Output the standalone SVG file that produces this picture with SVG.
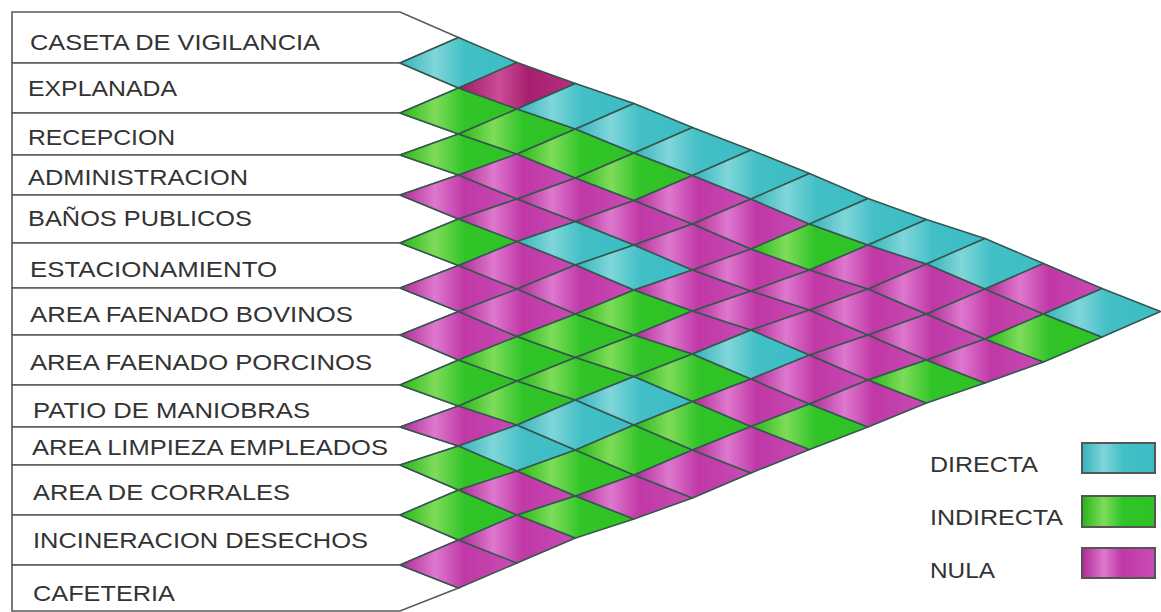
<svg xmlns="http://www.w3.org/2000/svg" width="1161" height="612" viewBox="0 0 1161 612">
<defs>
<linearGradient id="gc" x1="0" y1="0" x2="1" y2="0"><stop offset="0" stop-color="#34b2ba"/><stop offset="0.3" stop-color="#80d6da"/><stop offset="0.55" stop-color="#43c0c6"/><stop offset="1" stop-color="#3cbcc4"/></linearGradient>
<linearGradient id="gg" x1="0" y1="0" x2="1" y2="0"><stop offset="0" stop-color="#26b616"/><stop offset="0.3" stop-color="#7edc5a"/><stop offset="0.55" stop-color="#30c428"/><stop offset="1" stop-color="#2ec224"/></linearGradient>
<linearGradient id="gm" x1="0" y1="0" x2="1" y2="0"><stop offset="0" stop-color="#ae2a94"/><stop offset="0.3" stop-color="#de78ce"/><stop offset="0.55" stop-color="#c038a6"/><stop offset="1" stop-color="#c84cb4"/></linearGradient>
<linearGradient id="gd" x1="0" y1="0" x2="1" y2="0"><stop offset="0" stop-color="#9a1a68"/><stop offset="0.35" stop-color="#cc4c96"/><stop offset="0.6" stop-color="#a61e6e"/><stop offset="1" stop-color="#b8307e"/></linearGradient>
</defs>
<style>
.row{fill:#fff;stroke:#5a5a5a;stroke-width:1.6;stroke-linejoin:miter}
.lbl{font-family:"Liberation Sans",Arial,sans-serif;font-size:22px;fill:#333}
.cell polygon{stroke:#35574f;stroke-width:1.5;stroke-linejoin:round}
.c{fill:url(#gc)}.g{fill:url(#gg)}.m{fill:url(#gm)}.d{fill:url(#gd)}
.key{stroke:#555;stroke-width:2}
</style>
<rect width="1161" height="612" fill="#fff"/>
<g id="rows">
<g id="r0"><polygon class="row" points="12,12 400,12 458.5,37.5 400,63 12,63"/><text class="lbl" x="30" y="50" textLength="290" lengthAdjust="spacingAndGlyphs">CASETA DE VIGILANCIA</text></g>
<g id="r1"><polygon class="row" points="12,63 400,63 458.5,88 400,113 12,113"/><text class="lbl" x="28" y="96" textLength="149" lengthAdjust="spacingAndGlyphs">EXPLANADA</text></g>
<g id="r2"><polygon class="row" points="12,113 400,113 458.5,134 400,155 12,155"/><text class="lbl" x="28" y="145" textLength="147" lengthAdjust="spacingAndGlyphs">RECEPCION</text></g>
<g id="r3"><polygon class="row" points="12,155 400,155 458.5,175 400,195 12,195"/><text class="lbl" x="28" y="185" textLength="220" lengthAdjust="spacingAndGlyphs">ADMINISTRACION</text></g>
<g id="r4"><polygon class="row" points="12,195 400,195 458.5,219 400,243 12,243"/><text class="lbl" x="28" y="226" textLength="224" lengthAdjust="spacingAndGlyphs">BAÑOS PUBLICOS</text></g>
<g id="r5"><polygon class="row" points="12,243 400,243 458.5,265.5 400,288 12,288"/><text class="lbl" x="30" y="277" textLength="247" lengthAdjust="spacingAndGlyphs">ESTACIONAMIENTO</text></g>
<g id="r6"><polygon class="row" points="12,288 400,288 458.5,311.5 400,335 12,335"/><text class="lbl" x="30" y="322" textLength="323" lengthAdjust="spacingAndGlyphs">AREA FAENADO BOVINOS</text></g>
<g id="r7"><polygon class="row" points="12,335 400,335 458.5,360 400,385 12,385"/><text class="lbl" x="30" y="370" textLength="342" lengthAdjust="spacingAndGlyphs">AREA FAENADO PORCINOS</text></g>
<g id="r8"><polygon class="row" points="12,385 400,385 458.5,406 400,427 12,427"/><text class="lbl" x="33" y="418" textLength="277" lengthAdjust="spacingAndGlyphs">PATIO DE MANIOBRAS</text></g>
<g id="r9"><polygon class="row" points="12,427 400,427 458.5,446 400,465 12,465"/><text class="lbl" x="32" y="455" textLength="356" lengthAdjust="spacingAndGlyphs">AREA LIMPIEZA EMPLEADOS</text></g>
<g id="r10"><polygon class="row" points="12,465 400,465 458.5,490 400,515 12,515"/><text class="lbl" x="33" y="500" textLength="257" lengthAdjust="spacingAndGlyphs">AREA DE CORRALES</text></g>
<g id="r11"><polygon class="row" points="12,515 400,515 458.5,540 400,565 12,565"/><text class="lbl" x="33" y="548" textLength="335" lengthAdjust="spacingAndGlyphs">INCINERACION DESECHOS</text></g>
<g id="r12"><polygon class="row" points="12,565 400,565 458.5,588 400,611 12,611"/><text class="lbl" x="33" y="601" textLength="142" lengthAdjust="spacingAndGlyphs">CAFETERIA</text></g>
</g>
<g id="matrix" class="cell">
<polygon class="c" points="458.5,37.5 517,62.5 458.5,88 400,63"/>
<polygon class="g" points="458.5,88 517,109 458.5,134 400,113"/>
<polygon class="g" points="458.5,134 517,154 458.5,175 400,155"/>
<polygon class="m" points="458.5,175 517,199 458.5,219 400,195"/>
<polygon class="g" points="458.5,219 517,241.5 458.5,265.5 400,243"/>
<polygon class="m" points="458.5,265.5 517,289 458.5,311.5 400,288"/>
<polygon class="m" points="458.5,311.5 517,336.5 458.5,360 400,335"/>
<polygon class="g" points="458.5,360 517,381 458.5,406 400,385"/>
<polygon class="m" points="458.5,406 517,425 458.5,446 400,427"/>
<polygon class="g" points="458.5,446 517,471 458.5,490 400,465"/>
<polygon class="g" points="458.5,490 517,515 458.5,540 400,515"/>
<polygon class="m" points="458.5,540 517,563 458.5,588 400,565"/>

<polygon class="d" points="517,62.5 575.5,83.5 517,109 458.5,88"/>
<polygon class="g" points="517,109 575.5,129 517,154 458.5,134"/>
<polygon class="m" points="517,154 575.5,178 517,199 458.5,175"/>
<polygon class="m" points="517,199 575.5,221.5 517,241.5 458.5,219"/>
<polygon class="m" points="517,241.5 575.5,265 517,289 458.5,265.5"/>
<polygon class="m" points="517,289 575.5,314 517,336.5 458.5,311.5"/>
<polygon class="g" points="517,336.5 575.5,357.5 517,381 458.5,360"/>
<polygon class="g" points="517,381 575.5,400 517,425 458.5,406"/>
<polygon class="c" points="517,425 575.5,450 517,471 458.5,446"/>
<polygon class="m" points="517,471 575.5,496 517,515 458.5,490"/>
<polygon class="m" points="517,515 575.5,538 517,563 458.5,540"/>

<polygon class="c" points="575.5,83.5 634,103.5 575.5,129 517,109"/>
<polygon class="g" points="575.5,129 634,153 575.5,178 517,154"/>
<polygon class="m" points="575.5,178 634,200.5 575.5,221.5 517,199"/>
<polygon class="c" points="575.5,221.5 634,245 575.5,265 517,241.5"/>
<polygon class="m" points="575.5,265 634,290 575.5,314 517,289"/>
<polygon class="g" points="575.5,314 634,335 575.5,357.5 517,336.5"/>
<polygon class="g" points="575.5,357.5 634,376.5 575.5,400 517,381"/>
<polygon class="c" points="575.5,400 634,425 575.5,450 517,425"/>
<polygon class="g" points="575.5,450 634,475 575.5,496 517,471"/>
<polygon class="g" points="575.5,496 634,519 575.5,538 517,515"/>

<polygon class="c" points="634,103.5 692.5,127.5 634,153 575.5,129"/>
<polygon class="g" points="634,153 692.5,175.5 634,200.5 575.5,178"/>
<polygon class="m" points="634,200.5 692.5,224 634,245 575.5,221.5"/>
<polygon class="c" points="634,245 692.5,270 634,290 575.5,265"/>
<polygon class="g" points="634,290 692.5,311 634,335 575.5,314"/>
<polygon class="g" points="634,335 692.5,354 634,376.5 575.5,357.5"/>
<polygon class="c" points="634,376.5 692.5,401.5 634,425 575.5,400"/>
<polygon class="g" points="634,425 692.5,450 634,475 575.5,450"/>
<polygon class="m" points="634,475 692.5,498 634,519 575.5,496"/>

<polygon class="c" points="692.5,127.5 751,150 692.5,175.5 634,153"/>
<polygon class="m" points="692.5,175.5 751,199 692.5,224 634,200.5"/>
<polygon class="m" points="692.5,224 751,249 692.5,270 634,245"/>
<polygon class="m" points="692.5,270 751,291 692.5,311 634,290"/>
<polygon class="m" points="692.5,311 751,330 692.5,354 634,335"/>
<polygon class="g" points="692.5,354 751,379 692.5,401.5 634,376.5"/>
<polygon class="g" points="692.5,401.5 751,426.5 692.5,450 634,425"/>
<polygon class="m" points="692.5,450 751,473 692.5,498 634,475"/>

<polygon class="c" points="751,150 809.5,173.5 751,199 692.5,175.5"/>
<polygon class="m" points="751,199 809.5,224 751,249 692.5,224"/>
<polygon class="m" points="751,249 809.5,270 751,291 692.5,270"/>
<polygon class="m" points="751,291 809.5,310 751,330 692.5,311"/>
<polygon class="c" points="751,330 809.5,355 751,379 692.5,354"/>
<polygon class="m" points="751,379 809.5,404 751,426.5 692.5,401.5"/>
<polygon class="m" points="751,426.5 809.5,449.5 751,473 692.5,450"/>

<polygon class="c" points="809.5,173.5 868,198.5 809.5,224 751,199"/>
<polygon class="g" points="809.5,224 868,245 809.5,270 751,249"/>
<polygon class="m" points="809.5,270 868,289 809.5,310 751,291"/>
<polygon class="m" points="809.5,310 868,335 809.5,355 751,330"/>
<polygon class="m" points="809.5,355 868,380 809.5,404 751,379"/>
<polygon class="g" points="809.5,404 868,427 809.5,449.5 751,426.5"/>

<polygon class="c" points="868,198.5 926.5,219.5 868,245 809.5,224"/>
<polygon class="m" points="868,245 926.5,264 868,289 809.5,270"/>
<polygon class="m" points="868,289 926.5,314 868,335 809.5,310"/>
<polygon class="m" points="868,335 926.5,360 868,380 809.5,355"/>
<polygon class="m" points="868,380 926.5,403 868,427 809.5,404"/>

<polygon class="c" points="926.5,219.5 985,238.5 926.5,264 868,245"/>
<polygon class="m" points="926.5,264 985,289 926.5,314 868,289"/>
<polygon class="m" points="926.5,314 985,339 926.5,360 868,335"/>
<polygon class="g" points="926.5,360 985,383 926.5,403 868,380"/>

<polygon class="c" points="985,238.5 1043.5,263.5 985,289 926.5,264"/>
<polygon class="m" points="985,289 1043.5,314 985,339 926.5,314"/>
<polygon class="m" points="985,339 1043.5,362 985,383 926.5,360"/>

<polygon class="m" points="1043.5,263.5 1102,288.5 1043.5,314 985,289"/>
<polygon class="g" points="1043.5,314 1102,337 1043.5,362 985,339"/>

<polygon class="c" points="1102,288.5 1160.5,311.5 1102,337 1043.5,314"/>
</g>
<g id="legend">
<text class="lbl" x="930" y="472" textLength="108" lengthAdjust="spacingAndGlyphs">DIRECTA</text>
<rect class="key c" x="1082" y="443" width="73" height="30"/>
<text class="lbl" x="930" y="525" textLength="133" lengthAdjust="spacingAndGlyphs">INDIRECTA</text>
<rect class="key g" x="1082" y="496" width="73" height="31"/>
<text class="lbl" x="930" y="578" textLength="65" lengthAdjust="spacingAndGlyphs">NULA</text>
<rect class="key m" x="1082" y="548" width="73" height="30"/>
</g>
</svg>
